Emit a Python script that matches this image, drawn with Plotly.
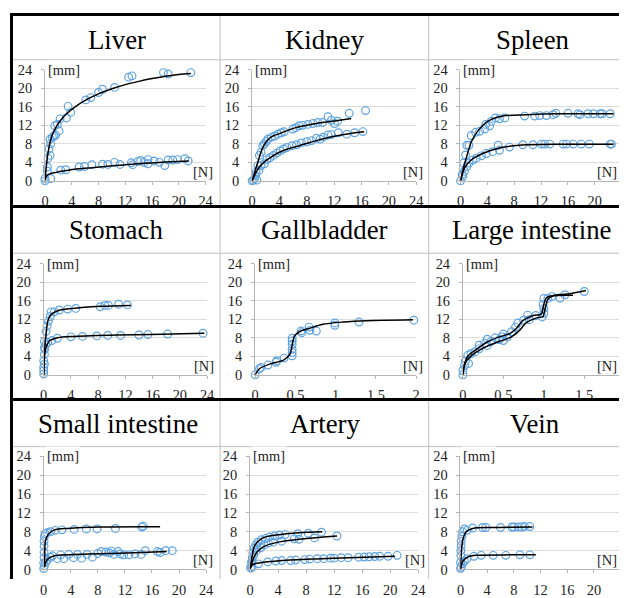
import plotly.graph_objects as go

# ---------------- DATA ----------------
# Liver
liver_a_x = [0.0, 0.35, 0.45, 0.6, 0.75, 0.75, 0.85, 1.1, 1.35, 1.6, 1.45, 1.85, 2.1, 2.25, 3.2, 3.45, 3.85, 6.1, 6.85, 8.0, 8.6, 10.4, 12.5, 13.0, 17.7, 18.4, 21.8]
liver_a_y = [0.0, 3.0, 4.9, 6.9, 5.5, 9.0, 8.0, 9.4, 9.7, 9.9, 11.9, 12.2, 10.8, 13.4, 13.6, 16.1, 14.8, 17.5, 18.0, 19.1, 19.8, 20.2, 22.4, 22.7, 23.4, 23.1, 23.4]
liver_b_x = [0.0, 0.35, 0.85, 2.35, 3.1, 5.1, 5.9, 7.0, 8.6, 9.4, 10.4, 11.2, 12.9, 13.1, 13.9, 14.3, 14.8, 15.4, 15.4, 16.3, 17.1, 17.9, 18.4, 19.1, 19.8, 20.9, 21.4]
liver_b_y = [0.5, 2.1, 0.5, 2.3, 2.4, 3.0, 3.1, 3.5, 3.6, 3.55, 4.0, 3.55, 3.9, 3.5, 4.2, 4.4, 4.0, 4.6, 3.7, 4.3, 4.0, 3.3, 4.5, 4.5, 4.6, 4.8, 4.3]
liver_fa_x = [0, 0.15, 0.3, 0.5, 0.75, 1.0, 1.35, 1.8, 2.4, 3.3, 4.5, 6, 8, 10, 12, 14, 16, 18, 20, 21.8]
liver_fa_y = [0, 2.5, 4.5, 6.5, 8.3, 9.6, 10.8, 12.0, 13.2, 14.6, 16.0, 17.4, 18.8, 19.9, 20.8, 21.5, 22.1, 22.6, 23.0, 23.2]
liver_fb_x = [0, 0.2, 0.5, 1, 2, 3, 5, 7, 9, 12, 15, 18, 21.5]
liver_fb_y = [0.3, 1.0, 1.4, 1.65, 1.95, 2.2, 2.6, 2.85, 3.1, 3.5, 3.8, 4.05, 4.3]

# Kidney
kidney_a_x = [0, 0.34, 0.59, 0.83, 1.07, 1.32, 1.56, 1.8, 2.05, 2.3, 2.8, 3.3, 3.75, 4.25, 4.7, 5.95, 6.4, 6.9, 7.4, 8.15, 8.9, 9.6, 10.3, 11.1, 11.6, 12.05, 12.5, 14.2, 16.6]
kidney_a_y = [0, 0.5, 1.9, 3.3, 5.5, 6.2, 7.6, 8.0, 8.5, 9.0, 9.4, 9.7, 10.1, 10.4, 10.6, 11.2, 11.5, 11.9, 12.0, 12.2, 12.4, 12.6, 12.6, 13.85, 13.1, 12.4, 12.9, 14.6, 15.2]
kidney_b_x = [0.2, 0.7, 0.5, 1.0, 1.3, 1.8, 2.15, 2.6, 3.1, 3.6, 4.1, 4.6, 5.1, 5.85, 6.5, 7.2, 8.0, 8.7, 9.4, 9.95, 10.4, 11.1, 11.6, 12.6, 13.85, 15.0, 16.2]
kidney_b_y = [0.15, 0.15, 1.2, 2.3, 3.3, 3.7, 4.6, 5.0, 5.5, 6.0, 6.5, 6.9, 7.2, 7.6, 7.8, 8.2, 8.45, 8.7, 9.2, 9.0, 9.45, 9.9, 10.0, 10.4, 10.1, 10.4, 10.65]
kidney_fa_x = [0, 0.4, 0.83, 1.2, 1.56, 2.0, 2.54, 3.2, 4.0, 5, 6.4, 8, 9.4, 11.8, 14.5]
kidney_fa_y = [0, 2.0, 4.0, 5.8, 7.2, 8.3, 9.2, 9.8, 10.2, 10.8, 11.5, 12.0, 12.4, 12.9, 13.5]
kidney_fb_x = [0, 0.5, 1.07, 1.8, 2.54, 3.5, 4.5, 5.7, 6.9, 8.2, 9.4, 11.8, 14.2, 16.4]
kidney_fb_y = [0, 1.6, 3.0, 4.1, 4.9, 5.8, 6.5, 7.1, 7.6, 8.2, 8.7, 9.6, 10.2, 10.6]

# Spleen
spleen_a_x = [0.25, 0.45, 0.75, 0.95, 1.25, 1.6, 2.25, 2.85, 3.6, 3.75, 4.35, 4.6, 5.2, 5.8, 6.6, 9.55, 11.05, 11.8, 12.8, 13.8, 14.2, 16.0, 17.5, 17.8, 19.0, 19.8, 20.8, 21.1, 22.3]
spleen_a_y = [1.4, 3.85, 5.6, 7.7, 7.7, 9.8, 10.5, 10.7, 11.2, 12.2, 11.9, 12.9, 13.6, 13.4, 13.6, 14.0, 14.0, 14.1, 14.1, 14.3, 14.6, 14.6, 14.5, 14.3, 14.5, 14.5, 14.5, 14.5, 14.5]
spleen_b_x = [0, 0.35, 0.6, 0.95, 1.25, 1.85, 2.35, 3.1, 3.85, 4.8, 5.6, 5.8, 7.3, 9.3, 10.8, 12.05, 12.55, 13.3, 15.3, 15.8, 16.8, 18.0, 19.2, 22.3, 22.5]
spleen_b_y = [0, 1.05, 2.1, 3.1, 3.85, 4.5, 4.9, 5.4, 5.9, 6.3, 7.7, 6.6, 7.3, 7.8, 7.8, 7.95, 7.95, 7.95, 7.95, 7.95, 7.95, 7.95, 7.95, 7.95, 7.95]
spleen_fa_x = [0, 0.4, 0.85, 1.6, 2.6, 4.1, 6.3, 9.8, 14.8, 22.8]
spleen_fa_y = [0, 2.6, 4.9, 8.4, 10.8, 12.9, 14.0, 14.3, 14.5, 14.5]
spleen_fb_x = [0, 0.3, 0.6, 1.6, 3.3, 5.8, 8.8, 14.8, 22.8]
spleen_fb_y = [0, 1.5, 2.8, 4.5, 5.9, 7.1, 7.7, 7.9, 7.9]

# Stomach
stomach_a_x = [0, 0, 0, 0.1, 0.1, 0.1, 0.35, 0.5, 0.7, 0.95, 1.07, 1.56, 2.3, 3.5, 4.7, 8.3, 9.0, 9.5, 11.0, 12.3]
stomach_a_y = [0.2, 1.6, 3.0, 4.4, 5.9, 7.2, 9.4, 10.5, 11.6, 12.6, 13.6, 13.6, 14.0, 14.2, 14.35, 14.7, 15.0, 15.0, 15.25, 15.1]
stomach_b_x = [0, 0.1, 0.15, 0.3, 0.6, 1.2, 2.0, 4.0, 5.7, 7.8, 9.4, 11.3, 14.0, 15.3, 18.2, 23.4]
stomach_b_y = [0.9, 2.3, 5.5, 6.5, 7.0, 7.4, 7.9, 8.2, 8.3, 8.4, 8.5, 8.5, 8.6, 8.7, 8.8, 9.0]
stomach_fa_x = [0, 0.05, 0.1, 0.2, 0.34, 0.6, 1.07, 2.05, 4.0, 8.4, 12.8]
stomach_fa_y = [0, 2.0, 3.8, 6.5, 8.7, 11.6, 13.0, 13.85, 14.3, 14.8, 15.0]
stomach_fb_x = [0, 0.05, 0.1, 0.2, 0.34, 0.83, 2.05, 4.5, 10.8, 15.7, 23.6]
stomach_fb_y = [0, 2.0, 3.8, 5.0, 5.9, 7.3, 8.0, 8.3, 8.6, 8.7, 9.0]

# Gallbladder
gall_x = [0, 0.054, 0.075, 0.16, 0.26, 0.27, 0.36, 0.46, 0.46, 0.46, 0.46, 0.46, 0.46, 0.57, 0.58, 0.67, 0.68, 0.76, 0.99, 0.99, 1.29, 1.97]
gall_y = [0, 1.3, 1.6, 2.1, 2.7, 3.05, 3.6, 4.1, 4.8, 5.5, 6.6, 7.3, 7.9, 9.45, 9.1, 10.3, 9.6, 9.45, 11.2, 10.7, 11.4, 11.8]
gall_f_x = [0, 0.054, 0.18, 0.34, 0.4, 0.435, 0.455, 0.47, 0.49, 0.55, 0.67, 0.84, 1.09, 1.38, 1.96]
gall_f_y = [0, 1.3, 2.3, 3.05, 3.8, 4.5, 5.9, 7.3, 8.4, 9.3, 10.0, 10.9, 11.4, 11.7, 11.9]

# Large intestine
large_x = [0, 0.0, 0.02, 0.03, 0.07, 0.06, 0.1, 0.15, 0.2, 0.2, 0.27, 0.3, 0.3, 0.35, 0.4, 0.45, 0.48, 0.5, 0.5, 0.55, 0.6, 0.65, 0.68, 0.75, 0.8, 0.82, 0.9, 0.98, 1.0, 1.0, 0.99, 1.0, 1.05, 1.1, 1.2, 1.26, 1.5]
large_y = [0, 1.0, 2.0, 3.0, 2.45, 4.2, 4.6, 5.0, 5.6, 6.4, 6.8, 7.7, 6.3, 7.2, 8.0, 7.6, 8.2, 8.8, 7.4, 8.2, 9.3, 10.3, 11.2, 11.8, 12.9, 11.9, 12.8, 12.5, 13.3, 14.3, 15.2, 16.5, 16.5, 16.9, 16.6, 17.3, 18.0]
large_fa_x = [0, 0.02, 0.06, 0.16, 0.31, 0.45, 0.58, 0.66, 0.74, 0.87, 0.97, 0.99, 1.03, 1.11, 1.32, 1.52]
large_fa_y = [0, 2.25, 4.0, 5.4, 7.2, 8.2, 8.9, 10.0, 11.7, 12.8, 13.1, 14.5, 16.6, 17.1, 17.5, 18.2]
large_fb_x = [0, 0.03, 0.12, 0.29, 0.45, 0.6, 0.7, 0.78, 0.91, 0.99, 1.01, 1.05, 1.11, 1.36]
large_fb_y = [0, 2.6, 4.35, 6.1, 7.2, 8.2, 9.6, 11.2, 12.3, 12.6, 13.8, 16.3, 17.0, 17.2]

# Small intestine
small_a_x = [0, 0, 0.05, 0.05, 0.05, 0.05, 0.1, 0.2, 0.5, 1.0, 1.7, 2.7, 4.5, 6.3, 7.9, 10.6, 14.5, 14.7]
small_a_y = [0.2, 1.4, 2.5, 3.7, 5.0, 6.0, 7.0, 7.6, 7.8, 8.0, 8.3, 8.4, 8.5, 8.6, 8.6, 8.7, 9.0, 9.2]
small_b_x = [0.1, 0.3, 0.5, 1.0, 1.3, 2.0, 2.5, 3.0, 3.7, 4.4, 5.0, 5.6, 6.4, 7.2, 8.0, 8.5, 9.2, 9.7, 10.0, 10.4, 11.0, 11.3, 11.8, 12.6, 13.5, 14.4, 15.0, 16.8, 17.2, 18.0, 19.0]
small_b_y = [0.8, 1.5, 2.0, 2.6, 2.9, 2.3, 3.1, 2.3, 3.2, 2.5, 3.2, 2.4, 3.2, 2.6, 3.4, 3.8, 3.7, 3.5, 3.9, 3.2, 3.8, 3.3, 3.1, 3.1, 3.3, 3.2, 4.0, 3.8, 3.6, 4.0, 4.0]
small_fa_x = [0.1, 0.15, 0.25, 0.6, 1.0, 1.6, 3.5, 8.5, 17.2]
small_fa_y = [0.5, 3.5, 6.0, 7.3, 7.9, 8.4, 8.7, 9.0, 9.05]
small_fb_x = [0.1, 0.3, 0.6, 1.0, 1.6, 2.5, 4.5, 8.5, 13.4, 18.2]
small_fb_y = [0.5, 1.6, 2.2, 2.6, 2.9, 3.05, 3.2, 3.35, 3.55, 3.8]

# Artery
artery_a_x = [0.1, 0.2, 0.3, 0.4, 0.6, 0.8, 1.1, 1.6, 2.2, 2.8, 3.5, 4.2, 5.0, 6.8, 8.3, 10.2]
artery_a_y = [0.5, 1.5, 2.5, 3.5, 4.5, 5.2, 5.8, 6.3, 6.6, 6.9, 7.1, 7.3, 7.4, 7.6, 7.7, 7.9]
artery_b_x = [0.3, 0.5, 0.9, 1.5, 2.0, 2.6, 3.3, 4.5, 6.3, 7.0, 9.2, 12.4]
artery_b_y = [1.8, 3.0, 4.0, 4.6, 5.2, 5.6, 5.8, 6.0, 6.5, 6.4, 6.7, 7.1]
artery_c_x = [0.1, 0.3, 1.2, 2.5, 3.7, 4.5, 5.8, 6.5, 7.8, 8.5, 9.6, 10.5, 11.5, 12.0, 13.0, 14.0, 15.5, 16.3, 17.0, 17.8, 18.5, 19.7, 21.0]
artery_c_y = [0.3, 0.5, 1.2, 1.6, 1.8, 1.9, 1.9, 2.0, 2.1, 2.2, 2.3, 2.3, 2.4, 2.4, 2.5, 2.5, 2.6, 2.65, 2.7, 2.75, 2.8, 2.8, 3.0]
artery_fa_x = [0, 0.28, 0.6, 1.1, 2.0, 3.7, 7.0, 10.3]
artery_fa_y = [0, 2.8, 4.9, 5.9, 6.8, 7.3, 7.8, 8.0]
artery_fb_x = [0, 0.28, 0.6, 1.1, 2.0, 3.7, 7.0, 12.4]
artery_fb_y = [0, 1.4, 2.8, 3.85, 4.9, 5.7, 6.4, 7.1]
artery_fc_x = [0, 0.38, 1.3, 4.6, 9.4, 14.1, 20.7]
artery_fc_y = [0.3, 1.05, 1.4, 1.9, 2.25, 2.5, 2.8]

# Vein
vein_a_x = [0, 0, 0.05, 0.05, 0.1, 0.1, 0.2, 0.3, 0.6, 1.0, 1.8, 3.3, 3.8, 6.0, 7.7, 8.0, 8.7, 9.2, 9.6, 10.4]
vein_a_y = [0.2, 1.5, 3.0, 4.0, 5.0, 6.0, 7.0, 8.0, 8.6, 8.3, 8.8, 8.9, 8.9, 8.9, 9.0, 9.0, 9.0, 9.0, 9.1, 9.1]
vein_b_x = [0.1, 0.3, 0.6, 1.0, 2.0, 3.1, 4.9, 6.8, 8.9, 10.4]
vein_b_y = [0.5, 1.2, 1.8, 2.3, 2.8, 3.0, 3.0, 3.0, 3.1, 3.1]
vein_fa_x = [0, 0.15, 0.35, 0.85, 1.85, 4.8, 10.8]
vein_fa_y = [0, 4.2, 6.3, 8.0, 8.7, 8.9, 9.0]
vein_fb_x = [0, 0.35, 1.1, 2.3, 7.3, 11.3]
vein_fb_y = [0, 1.75, 2.65, 3.0, 3.1, 3.1]

titles = ["Liver", "Kidney", "Spleen", "Stomach", "Gallbladder", "Large intestine",
          "Small intestine", "Artery", "Vein"]
ticks_24 = [0, 4, 8, 12, 16, 20, 24]
ticks_2 = [0, 0.5, 1, 1.5, 2]
ticks_2_text = ["0", "0.5", "1", "1.5", "2"]
y_ticks = [0, 4, 8, 12, 16, 20, 24]
y_label = "[mm]"
x_label = "[N]"

# ---------------- LAYOUT HELPERS ----------------
W, H = 626, 598
# observed mapping of the photographed page: screen = A + S * layout
SX, AX = 0.982, 3.0
SY, AY = 0.970, 6.9

def LX(x):
    return (x - AX) / SX

def LY(y):
    return (y - AY) / SY

def PX(x):
    return min(1.0, max(0.0, LX(x) / W))

def PY(y):
    return min(1.0, max(0.0, 1 - LY(y) / H))

BLUE = "#5FA3E0"
FONT = "Liberation Serif"

panels = [
    dict(xd=(44.0, 204.5), yd=(182.5, 69.7), xr=24,
         pts=[(liver_a_x, liver_a_y), (liver_b_x, liver_b_y)],
         fits=[(liver_fa_x, liver_fa_y), (liver_fb_x, liver_fb_y)]),
    dict(xd=(251.0, 415.0), yd=(182.5, 69.7), xr=24,
         pts=[(kidney_a_x, kidney_a_y), (kidney_b_x, kidney_b_y)],
         fits=[(kidney_fa_x, kidney_fa_y), (kidney_fb_x, kidney_fb_y)]),
    dict(xd=(459.3, 620.3), yd=(182.5, 69.7), xr=24,
         pts=[(spleen_a_x, spleen_a_y), (spleen_b_x, spleen_b_y)],
         fits=[(spleen_fa_x, spleen_fa_y), (spleen_fb_x, spleen_fb_y)]),
    dict(xd=(42.7, 206.0), yd=(379.5, 266.7), xr=24,
         pts=[(stomach_a_x, stomach_a_y), (stomach_b_x, stomach_b_y)],
         fits=[(stomach_fa_x, stomach_fa_y), (stomach_fb_x, stomach_fb_y)]),
    dict(xd=(254.0, 415.0), yd=(379.5, 266.7), xr=2,
         pts=[(gall_x, gall_y)],
         fits=[(gall_f_x, gall_f_y)]),
    dict(xd=(461.7, 623.5), yd=(379.5, 266.7), xr=2,
         pts=[(large_x, large_y)],
         fits=[(large_fa_x, large_fa_y), (large_fb_x, large_fb_y)]),
    dict(xd=(42.7, 205.0), yd=(577.3, 462.3), xr=24,
         pts=[(small_a_x, small_a_y), (small_b_x, small_b_y)],
         fits=[(small_fa_x, small_fa_y), (small_fb_x, small_fb_y)]),
    dict(xd=(249.0, 417.0), yd=(577.3, 462.3), xr=24,
         pts=[(artery_a_x, artery_a_y), (artery_b_x, artery_b_y), (artery_c_x, artery_c_y)],
         fits=[(artery_fa_x, artery_fa_y), (artery_fb_x, artery_fb_y), (artery_fc_x, artery_fc_y)]),
    dict(xd=(459.3, 619.3), yd=(577.3, 462.3), xr=24,
         pts=[(vein_a_x, vein_a_y), (vein_b_x, vein_b_y)],
         fits=[(vein_fa_x, vein_fa_y), (vein_fb_x, vein_fb_y)]),
]

title_pos = [(116, 39), (323, 39), (531, 39),
             (115, 232), (323, 232), (531, 232),
             (117, 429), (324, 429), (533, 429)]

fig = go.Figure()
layout = dict(
    width=W, height=H, autosize=False,
    margin=dict(l=0, r=0, t=0, b=0),
    paper_bgcolor="white", plot_bgcolor="white",
    showlegend=False,
    font=dict(family=FONT, color="#222"),
)
annotations = []
shapes = []
TICK_FONT = dict(family=FONT, size=14.4, color="#222")

for i, p in enumerate(panels):
    n = i + 1
    xa = "xaxis" if n == 1 else f"xaxis{n}"
    ya = "yaxis" if n == 1 else f"yaxis{n}"
    xr = "x" if n == 1 else f"x{n}"
    yr = "y" if n == 1 else f"y{n}"
    if p["xr"] == 24:
        tv, tt = ticks_24, [str(v) for v in ticks_24]
    else:
        tv, tt = ticks_2, ticks_2_text
    lx0, lx1 = LX(p["xd"][0]), LX(p["xd"][1])
    lx1c = min(lx1, W)
    rmax = p["xr"] * (lx1c - lx0) / (lx1 - lx0)
    layout[xa] = dict(
        domain=[lx0 / W, lx1c / W], anchor=yr,
        range=[0, rmax], tickvals=tv, ticktext=tt,
        showgrid=False, zeroline=False, showline=True,
        linecolor="#b5b5b5", linewidth=1,
        ticks="outside", ticklen=3, tickcolor="#b5b5b5",
        tickfont=TICK_FONT, ticklabelstandoff=4, fixedrange=True,
    )
    layout[ya] = dict(
        domain=[PY(p["yd"][0]), PY(p["yd"][1])], anchor=xr,
        range=[0, 24], tickvals=y_ticks,
        showgrid=True, gridcolor="#dcdcdc", gridwidth=1,
        zeroline=False, showline=True, linecolor="#b5b5b5", linewidth=1,
        ticks="outside", ticklen=3, tickcolor="#b5b5b5",
        tickfont=TICK_FONT, ticklabelstandoff=6, fixedrange=True,
    )
    for (sx, sy) in p["pts"]:
        fig.add_trace(go.Scatter(
            x=sx, y=sy, xaxis=xr, yaxis=yr, mode="markers", cliponaxis=False,
            marker=dict(symbol="circle-open", size=7.7, color=BLUE,
                        line=dict(width=1.2, color=BLUE)),
            hoverinfo="skip"))
    for (fx, fy) in p["fits"]:
        fig.add_trace(go.Scatter(
            x=fx, y=fy, xaxis=xr, yaxis=yr, mode="lines", cliponaxis=False,
            line=dict(color="black", width=1.5, shape="spline", smoothing=0.8),
            hoverinfo="skip"))
    annotations.append(dict(
        x=0, y=24, xref=xr, yref=yr, text=y_label, showarrow=False,
        xanchor="left", yanchor="middle", xshift=1, bgcolor="white",
        font=TICK_FONT))
    if rmax < p["xr"]:
        # right-hand column: keep the unit label fully inside the picture
        annotations.append(dict(
            x=1.0, y=2.0, xref="paper", yref=yr, text=x_label, showarrow=False,
            xanchor="right", yanchor="middle", font=TICK_FONT))
    else:
        annotations.append(dict(
            x=p["xr"] * 0.983, y=2.0, xref=xr, yref=yr, text=x_label, showarrow=False,
            xanchor="center", yanchor="middle", font=TICK_FONT))
    tx, ty = title_pos[i]
    annotations.append(dict(
        x=PX(tx), y=PY(ty), xref="paper", yref="paper", text=titles[i],
        showarrow=False, xanchor="center", yanchor="middle",
        font=dict(family=FONT, size=26.8, color="black")))

# table lines
GRAY = "#c0c0c0"
for xv in (219.0, 427.5):
    shapes.append(dict(type="line", xref="paper", yref="paper",
                       x0=PX(xv), x1=PX(xv), y0=PY(15), y1=PY(640),
                       line=dict(color=GRAY, width=1)))
for yv in (59.5, 256.0, 452.5):
    shapes.append(dict(type="line", xref="paper", yref="paper",
                       x0=PX(12), x1=PX(640), y0=PY(yv), y1=PY(yv),
                       line=dict(color=GRAY, width=1)))
for yv in (13.5, 208.5, 404.5):
    shapes.append(dict(type="line", xref="paper", yref="paper",
                       x0=PX(9), x1=PX(640), y0=PY(yv), y1=PY(yv),
                       line=dict(color="black", width=3)))
shapes.append(dict(type="line", xref="paper", yref="paper",
                   x0=PX(10.5), x1=PX(10.5), y0=PY(12), y1=PY(640),
                   line=dict(color="black", width=3)))

layout["annotations"] = annotations
layout["shapes"] = shapes
fig.update_layout(**layout)
fig.write_html(
    "out.html",
    config={"displayModeBar": False},
    post_script="document.body.style.margin='0';document.body.style.padding='0';document.body.style.overflow='hidden';",
)
